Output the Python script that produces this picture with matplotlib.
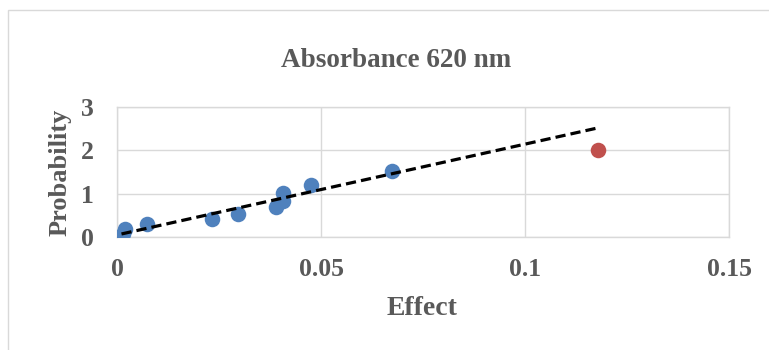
#!/usr/bin/env python3
"""Absorbance 620 nm - probability vs effect scatter with linear trendline."""

import matplotlib
matplotlib.use("Agg")
import matplotlib.pyplot as plt
from matplotlib.patches import Rectangle
import numpy as np


# ── data ────────────────────────────────────────────────────────────────────
effect      = [0.0015, 0.0020, 0.0073, 0.0234, 0.0297, 0.0390,
               0.0408, 0.0408, 0.0476, 0.0674]
probability = [0.07, 0.18, 0.30, 0.41, 0.53, 0.69,
               0.84, 1.02, 1.21, 1.52]

outlier_effect      = [0.1179]
outlier_probability = [2.00]

trend_slope     = 20.96
trend_intercept = 0.047
trend_range     = [0.0011, 0.118]

x_ticks = [0, 0.05, 0.1, 0.15]
x_labels = ["0", "0.05", "0.1", "0.15"]
y_ticks = [0, 1, 2, 3]

# ── style ────────────────────────────────────────────────────────────────────
TEXT  = "#595959"
GRID  = "#D9D9D9"
BLUE  = "#4F81BD"
RED   = "#C0504D"
plt.rcParams["font.family"] = ["Liberation Serif", "DejaVu Serif"]
plt.rcParams["font.weight"] = "bold"

W, H = 769, 350
fig = plt.figure(figsize=(W / 100, H / 100), dpi=100)
ax = fig.add_axes([117 / W, 1 - 237 / H, (729 - 117) / W, (237 - 107) / H])

# outer chart border (runs off the right/bottom edge as in the reference)
fig.patches.append(Rectangle((8 / W, -0.2), 1.2, 1.2 - 10 / H,
                             transform=fig.transFigure, fill=False,
                             edgecolor=GRID, lw=1.0))

ax.set_xlim(0, 0.15)
ax.set_ylim(0, 3)
ax.set_xticks(x_ticks)
ax.set_xticklabels(x_labels)
ax.set_yticks(y_ticks)
ax.tick_params(length=0, labelsize=18.5, labelcolor=TEXT)
ax.tick_params(axis="x", pad=15)
ax.tick_params(axis="y", pad=17)
ax.grid(True, color=GRID, lw=1.0)
ax.set_axisbelow(True)
for sp in ax.spines.values():
    sp.set_color(GRID)
    sp.set_linewidth(1.0)

ax.scatter(effect, probability, s=125, color=BLUE, zorder=3, linewidths=0)
ax.scatter(outlier_effect, outlier_probability, s=125, color=RED, zorder=3,
           linewidths=0)

tx = np.array(trend_range)
ax.plot(tx, trend_intercept + trend_slope * tx, color="black", lw=2.3,
        ls=(0, (3.2, 1.6)), zorder=4)

fig.text(396 / W, 1 - 67 / H, "Absorbance 620 nm", fontsize=19.5,
         color=TEXT, fontweight="bold", ha="center", va="baseline")
fig.text(422 / W, 1 - 315 / H, "Effect", fontsize=20,
         color=TEXT, fontweight="bold", ha="center", va="baseline")
ax.set_ylabel("Probability", fontsize=19, color=TEXT, fontweight="bold",
              labelpad=6)

fig.savefig("out.png", dpi=100)
